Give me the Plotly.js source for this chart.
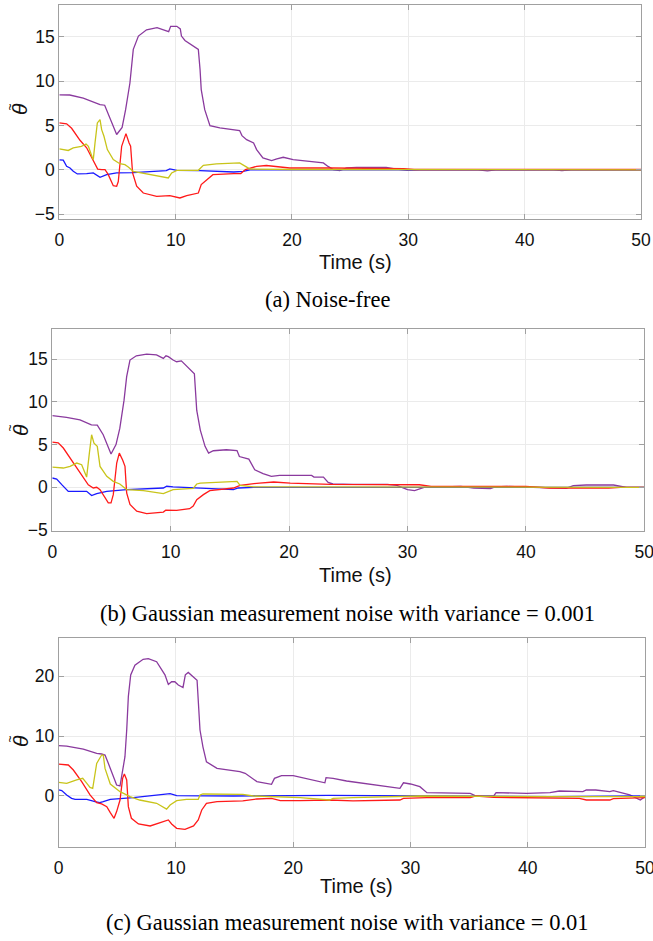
<!DOCTYPE html>
<html>
<head>
<meta charset="utf-8">
<script src="https://cdn.plot.ly/plotly-3.0.1.min.js"></script>
<style>html,body{margin:0;padding:0;background:#fff;overflow:hidden;}#chart{width:670px;height:941px;}</style>
</head>
<body>
<div id="chart"></div>
<script>
// ---------- Panel (a): noise-free ----------
const aPurpleT = [0,0.9,2.06,3.5,3.9,4.93,5.4,5.7,6.07,6.36,6.8,7.5,8.4,9.4,9.57,10.1,10.4,10.5,10.8,11.4,11.95,12.1,12.2,12.5,12.95,13.8,15.5,15.7,16.1,16.7,16.96,17.5,18.25,18.7,19.25,20.1,21.8,22.7,23.1,23.55,24.1,24.7,25.55,28.1,29.0,29.9,31,36,36.8,37.5,42.5,43.2,44,50];
const aPurpleY = [8.46,8.45,8.1,7.37,7.3,4.0,4.8,6.8,9.8,13.6,15.1,15.8,16.05,15.6,16.2,16.2,15.9,15.1,14.6,14.1,13.6,11.3,9.06,6.8,5.0,4.74,4.44,3.87,3.42,3.05,2.3,1.35,1.05,1.24,1.43,1.17,0.9,0.8,0.4,0.04,-0.07,0.22,0.3,0.3,0.1,-0.04,0,0,-0.1,0,0,-0.08,0,0];
const aRedT = [0,0.63,1.06,1.78,2.35,2.92,3.3,3.64,3.93,4.2,4.64,4.93,5.07,5.36,5.73,6.0,6.13,6.3,6.65,7.22,8.37,9.5,10.37,10.95,11.95,12.2,12.67,13.2,15.0,15.6,16.0,16.96,17.8,19.25,19.8,23.3,29.6,30.5,50];
const aRedY = [5.3,5.2,4.7,3.35,2.5,1.0,0.1,0.04,0.04,-0.5,-1.77,-1.84,-1.3,2.67,4.1,3.05,2.67,-0.34,-1.84,-2.6,-2.97,-2.9,-3.16,-2.9,-2.6,-1.65,-1.1,-0.53,-0.41,-0.41,0.04,0.41,0.5,0.34,0.22,0.22,0.15,0.05,0.05];
const aYellowT = [0,0.77,1.2,1.9,2.3,2.5,2.8,2.92,3.07,3.27,3.5,3.64,3.84,4.13,4.64,5.2,5.64,5.93,6.36,7.5,9.2,9.37,9.66,10.1,11.95,12.38,13.5,15.5,16.0,16.4,20,50];
const aYellowY = [2.37,2.2,2.48,2.67,2.93,2.67,1.54,1.17,3.05,5.3,5.68,4.55,3.8,2.3,1.17,0.7,0.6,0.34,-0.15,-0.41,-0.83,-0.9,-0.34,-0.04,-0.04,0.53,0.68,0.79,0.41,0.11,0.05,0.02];
const aBlueT = [0,0.34,0.63,0.92,1.2,1.55,2.35,2.92,3.5,4.07,4.93,6.36,9.2,9.5,10.1,12.1,15.0,15.8,16.4,50];
const aBlueY = [1.13,1.1,0.41,0.22,-0.15,-0.45,-0.41,-0.34,-0.83,-0.53,-0.34,-0.3,-0.08,0.11,-0.04,-0.08,-0.23,-0.15,0,0];

// ---------- Panel (b): noise variance 0.001 ----------
const bPurpleT = [0,1.2,2.34,3.3,3.8,4.3,4.96,5.38,5.7,6.06,6.28,6.56,7.1,7.97,8.8,9.38,9.6,9.8,10.2,10.5,10.9,11.8,12.0,12.2,12.5,12.9,13.2,13.6,14.7,15.6,15.8,16.6,17.1,17.8,18.5,19.2,21.9,22.1,22.9,23.3,23.7,25.4,28.3,29.1,30.0,30.6,31.4,34.5,35.6,37.0,37.4,38.4,42.3,43.4,44.0,45.1,47.4,47.97,48.5,50];
const bPurpleY = [8.4,8.2,7.9,7.3,7.28,6.15,3.9,5.0,6.9,10.2,12.96,14.9,15.4,15.6,15.5,15.1,15.4,15.3,14.9,14.7,14.8,13.5,13.3,9.0,6.7,4.8,4.0,4.28,4.4,4.3,3.6,3.3,2.06,1.6,1.28,1.4,1.4,1.2,1.2,0.58,0.39,0.35,0.35,0.23,-0.27,-0.39,0,0.1,-0.08,-0.16,0.04,0.1,-0.08,-0.12,0.2,0.27,0.27,0.1,0,0];
const bRedT = [0,0.5,0.93,1.5,1.9,2.48,3.04,3.46,3.75,4.03,4.45,4.73,4.96,5.15,5.44,5.66,5.94,6.14,6.28,6.56,7.13,7.97,9.38,9.58,10.5,11.6,11.9,12.2,12.76,13.3,15.3,15.86,17.5,18.7,20.1,23.5,31,32,40,42,47,48,50];
const bRedY = [5.3,5.2,4.6,3.4,2.65,1.48,0.3,-0.08,0,-0.27,-1.25,-1.83,-1.83,-0.86,2.84,4.0,3.2,2.45,-0.66,-2.0,-2.8,-3.07,-2.9,-2.68,-2.7,-2.5,-2.2,-1.44,-0.86,-0.39,-0.08,0.23,0.5,0.62,0.5,0.35,0.3,0.1,0.1,-0.08,-0.08,0,0];
const bYellowT = [0,0.93,1.5,2.06,2.48,2.76,2.9,3.13,3.32,3.52,3.8,4.03,4.6,5.15,5.7,6.28,7.7,9.38,9.66,10.2,11.9,12.2,12.5,15.3,15.6,15.86,17.0,50];
const bYellowY = [2.37,2.26,2.45,2.84,2.65,1.67,1.2,4.0,6.15,5.17,4.8,2.45,1.28,0.7,0.39,-0.27,-0.39,-0.74,-0.58,-0.27,-0.12,0.39,0.5,0.7,0.7,0.23,0.04,0];
const bBlueT = [0,0.37,0.8,1.35,2.34,2.9,3.32,3.75,4.6,6.28,9.38,9.66,10.2,12.2,15.3,15.7,17.0,50];
const bBlueY = [1.09,0.97,0.31,-0.47,-0.47,-0.47,-0.97,-0.74,-0.47,-0.27,-0.08,0.12,0.04,-0.08,-0.27,-0.08,0,0];

// ---------- Panel (c): noise variance 0.01 ----------
const cPurpleT = [0,0.68,2.1,3.24,3.66,3.95,4.23,4.66,4.94,5.23,5.45,5.65,5.8,5.94,6.14,6.5,7.2,7.64,8.35,9.06,9.35,9.63,9.9,10.2,10.6,10.8,11.05,11.5,11.8,12.05,12.3,12.6,13.5,15.45,15.9,16.9,18.15,18.4,19.0,20.0,22.7,22.8,23.4,24.55,29.1,29.4,30.0,30.8,31.4,35.1,35.6,37.1,37.3,39.9,41.9,42.7,44.7,45.0,45.8,47.0,47.3,48.7,49.6,50];
const cPurpleY = [8.4,8.33,7.83,7.1,7.0,6.83,5.44,3.2,1.83,1.67,4.33,6.55,11,16.6,20.2,21.8,22.8,22.9,22.4,20.2,18.6,19.05,19.05,18.5,18.1,20.2,20.6,19.9,19.3,11,8.2,5.7,4.6,4.05,3.78,2.4,1.94,2.94,3.4,3.4,2.2,3.05,2.94,2.5,1.28,2.2,2.0,1.55,0.55,0.44,0,0,0.55,0.44,0.55,0.83,0.72,1.0,1.0,0.72,0.9,0.17,-0.67,-0.1];
const cRedT = [0,0.82,1.25,1.96,2.67,3.24,3.66,4.1,4.4,4.72,4.94,5.23,5.45,5.6,5.8,5.94,6.2,6.8,7.8,9.06,9.35,9.63,10.06,10.77,11.5,11.9,12.2,12.6,13.5,15.7,16.9,18.15,18.9,20.6,23.1,25.1,29.1,29.4,31.4,35.1,35.6,37.1,41.9,42.2,44.4,45.0,47.0,47.3,49.3,50];
const cRedY = [5.3,5.17,4.33,2.4,0.17,-1.1,-1.33,-1.78,-2.78,-3.72,-2.6,-0.67,2.94,3.67,2.67,-1.78,-3.72,-4.67,-5.0,-4.28,-4.0,-4.67,-5.39,-5.56,-5.0,-4.0,-2.33,-1.22,-0.94,-0.83,-0.5,-0.39,-0.78,-0.78,-0.67,-0.83,-0.67,-0.4,-0.28,-0.28,0,-0.22,-0.28,-0.4,-0.4,-0.67,-0.67,-0.44,-0.39,-0.28];
const cYellowT = [0,0.68,1.53,2.05,2.4,2.67,2.9,3.24,3.66,3.8,3.95,4.4,5.23,6.08,6.9,8.35,9.2,9.5,10.06,10.9,11.9,12.05,12.3,15.7,16.6,20.6,23.1,23.4,25.1,29.4,30.8,42,50];
const cYellowY = [2.28,2.1,2.67,2.94,2.1,1.44,1.28,5.44,6.83,6.83,4.6,2.0,0.72,-0.11,-0.67,-1.22,-2.2,-1.5,-0.78,-0.56,-0.56,0.17,0.33,0.28,0,-0.28,-0.67,-0.4,-0.28,-0.1,0,-0.1,-0.1];
const cBlueT = [0,0.26,0.68,1.1,1.4,2.4,3.1,3.5,3.8,4.4,6.36,9.2,9.5,10.06,12.05,14.9,23.1,29.1,29.4,41.9,50];
const cBlueY = [1.0,0.9,0.17,-0.39,-0.56,-0.56,-0.94,-1.1,-0.94,-0.56,-0.28,0.28,0.39,0.06,0,0,0.11,0.06,0,-0.1,0];

const xTickVals = [0,10,20,30,40,50];
const yTickValsAB = [-5,0,5,10,15];
const yTickValsC = [0,10,20];
const captions = ["(a) Noise-free",
  "(b) Gaussian measurement noise with variance = 0.001",
  "(c) Gaussian measurement noise with variance = 0.01"];
const xLabel = "Time (s)";
const yLabel = "<i>θ</i>";
const yLabelAccent = "~";

const colors = {purple:'#8a3a9e', red:'#ff1a1a', yellow:'#c8c41a', blue:'#1a1aff'};
const W = 670, H = 941;   // canvas slightly wider than the 653px window so the right-most "50" is clipped like the original

function tr(x, y, color, ax){
  return {x:x, y:y, type:'scatter', mode:'lines', line:{color:color, width:1.3},
          xaxis:'x'+ax, yaxis:'y'+ax, hoverinfo:'skip'};
}
const data = [
  tr(aPurpleT,aPurpleY,colors.purple,''), tr(aBlueT,aBlueY,colors.blue,''), tr(aRedT,aRedY,colors.red,''), tr(aYellowT,aYellowY,colors.yellow,''),
  tr(bPurpleT,bPurpleY,colors.purple,'2'), tr(bBlueT,bBlueY,colors.blue,'2'), tr(bRedT,bRedY,colors.red,'2'), tr(bYellowT,bYellowY,colors.yellow,'2'),
  tr(cPurpleT,cPurpleY,colors.purple,'3'), tr(cBlueT,cBlueY,colors.blue,'3'), tr(cRedT,cRedY,colors.red,'3'), tr(cYellowT,cYellowY,colors.yellow,'3')
];

// plot-area pixel boxes [left,right,top,bottom]
const boxes = [[59.3,641,5,219],[52.3,644.3,329.3,530.7],[58.7,645,638.3,846.7]];
const yRanges = [[-5.53,18.6],[-5.08,18.5],[-8.46,26.3]];
const tickFont = {family:'Liberation Sans, Arial, sans-serif', size:17.5, color:'#111'};
function xax(i, anchor){
  const b = boxes[i];
  return {domain:[b[0]/W, b[1]/W], range:[0,50], anchor:anchor, tickvals:xTickVals,
    showgrid:true, gridcolor:'#ebebeb', gridwidth:1, zeroline:false, showline:true, linecolor:'#a0a0a0', linewidth:1,
    mirror:'ticks', ticks:'inside', ticklen:5, tickcolor:'#a0a0a0', tickfont:tickFont, ticklabelstandoff:5, fixedrange:true};
}
function yax(i, anchor, tv){
  const b = boxes[i];
  return {domain:[1-b[3]/H, 1-b[2]/H], range:yRanges[i], anchor:anchor, tickvals:tv,
    showgrid:true, gridcolor:'#ebebeb', gridwidth:1, zeroline:false, showline:true, linecolor:'#a0a0a0', linewidth:1,
    mirror:'ticks', ticks:'inside', ticklen:5, tickcolor:'#a0a0a0', tickfont:tickFont, fixedrange:true};
}
const xLabelPos = [[355,262],[355.5,575],[356.5,886]];
const thetaY = [109, 430, 741];
const capPos = [[328,300],[347,613],[347.5,922]];
const annotations = [];
for(let i=0;i<3;i++){
  annotations.push({text:xLabel, xref:'paper', yref:'paper', x:xLabelPos[i][0]/W, y:1-xLabelPos[i][1]/H,
    xanchor:'center', yanchor:'middle', showarrow:false, font:{family:'Liberation Sans, Arial, sans-serif', size:20, color:'#111'}});
  annotations.push({text:yLabel, xref:'paper', yref:'paper', x:20/W, y:1-thetaY[i]/H, textangle:-90,
    xanchor:'center', yanchor:'middle', showarrow:false, font:{family:'Liberation Sans, Arial, sans-serif', size:21, color:'#111'}});
  annotations.push({text:yLabelAccent, xref:'paper', yref:'paper', x:9.5/W, y:1-(thetaY[i]-2)/H, textangle:-90,
    xanchor:'center', yanchor:'middle', showarrow:false, font:{family:'Liberation Sans, Arial, sans-serif', size:12, color:'#111'}});
  annotations.push({text:captions[i], xref:'paper', yref:'paper', x:capPos[i][0]/W, y:1-capPos[i][1]/H,
    xanchor:'center', yanchor:'middle', showarrow:false, font:{family:'Liberation Serif, Times New Roman, serif', size:22.5, color:'#000'}});
}
const layout = {
  width:W, height:H, margin:{l:0,r:0,t:0,b:0}, paper_bgcolor:'#fff', plot_bgcolor:'#fff', showlegend:false,
  xaxis:xax(0,'y'), yaxis:yax(0,'x',yTickValsAB),
  xaxis2:xax(1,'y2'), yaxis2:yax(1,'x2',yTickValsAB),
  xaxis3:xax(2,'y3'), yaxis3:yax(2,'x3',yTickValsC),
  annotations:annotations
};
Plotly.newPlot('chart', data, layout, {staticPlot:true, displayModeBar:false});
</script>
</body>
</html>
